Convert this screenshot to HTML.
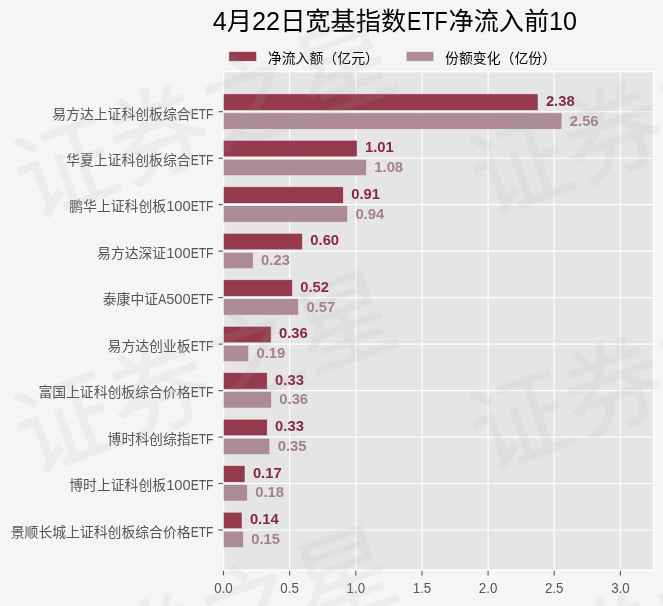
<!DOCTYPE html>
<html lang="zh-CN">
<head>
<meta charset="utf-8">
<title>4月22日宽基指数ETF净流入前10</title>
<style>
html,body{margin:0;padding:0;background:#f5f5f5;}
body{width:663px;height:606px;overflow:hidden;}
svg{display:block;}
text{font-family:"Liberation Sans", "Noto Sans CJK SC", sans-serif;}
.yl{font-size:13.84px;fill:#555;}
.xl{font-size:14.9px;fill:#555;text-anchor:middle;}
.v{font-size:15.4px;font-weight:bold;}
.lg{font-size:13.9px;fill:#000;}
.tt{font-size:25.4px;fill:#000;}
.wm{font-size:99px;fill:#a8a8a8;stroke:#a8a8a8;stroke-width:1.2px;opacity:0.105;}
</style>
</head>
<body>
<svg width="663" height="606" viewBox="0 0 663 606">
<rect x="0" y="0" width="663" height="606" fill="#f5f5f5"/>
<rect x="223.5" y="71.6" width="430.1" height="498.5" fill="#e5e5e5"/>
<g stroke="#fff" stroke-width="1.1">
<line x1="223.5" y1="71.6" x2="223.5" y2="570.1"/>
<line x1="289.6" y1="71.6" x2="289.6" y2="570.1"/>
<line x1="355.8" y1="71.6" x2="355.8" y2="570.1"/>
<line x1="422.0" y1="71.6" x2="422.0" y2="570.1"/>
<line x1="488.1" y1="71.6" x2="488.1" y2="570.1"/>
<line x1="554.2" y1="71.6" x2="554.2" y2="570.1"/>
<line x1="620.4" y1="71.6" x2="620.4" y2="570.1"/>
<line x1="223.5" y1="111.7" x2="653.6" y2="111.7"/>
<line x1="223.5" y1="158.2" x2="653.6" y2="158.2"/>
<line x1="223.5" y1="204.6" x2="653.6" y2="204.6"/>
<line x1="223.5" y1="251.1" x2="653.6" y2="251.1"/>
<line x1="223.5" y1="297.6" x2="653.6" y2="297.6"/>
<line x1="223.5" y1="344.1" x2="653.6" y2="344.1"/>
<line x1="223.5" y1="390.6" x2="653.6" y2="390.6"/>
<line x1="223.5" y1="437.1" x2="653.6" y2="437.1"/>
<line x1="223.5" y1="483.5" x2="653.6" y2="483.5"/>
<line x1="223.5" y1="530.0" x2="653.6" y2="530.0"/>
</g>
<rect x="223.5" y="71.6" width="430.1" height="498.5" fill="none" stroke="#fff" stroke-width="1.4"/>
<g stroke="#555" stroke-width="1.1">
<line x1="223.5" y1="570.8" x2="223.5" y2="575.4"/>
<line x1="289.6" y1="570.8" x2="289.6" y2="575.4"/>
<line x1="355.8" y1="570.8" x2="355.8" y2="575.4"/>
<line x1="422.0" y1="570.8" x2="422.0" y2="575.4"/>
<line x1="488.1" y1="570.8" x2="488.1" y2="575.4"/>
<line x1="554.2" y1="570.8" x2="554.2" y2="575.4"/>
<line x1="620.4" y1="570.8" x2="620.4" y2="575.4"/>
<line x1="218.5" y1="111.7" x2="222.9" y2="111.7"/>
<line x1="218.5" y1="158.2" x2="222.9" y2="158.2"/>
<line x1="218.5" y1="204.6" x2="222.9" y2="204.6"/>
<line x1="218.5" y1="251.1" x2="222.9" y2="251.1"/>
<line x1="218.5" y1="297.6" x2="222.9" y2="297.6"/>
<line x1="218.5" y1="344.1" x2="222.9" y2="344.1"/>
<line x1="218.5" y1="390.6" x2="222.9" y2="390.6"/>
<line x1="218.5" y1="437.1" x2="222.9" y2="437.1"/>
<line x1="218.5" y1="483.5" x2="222.9" y2="483.5"/>
<line x1="218.5" y1="530.0" x2="222.9" y2="530.0"/>
</g>
<rect x="223.5" y="93.9" width="314.5" height="16.5" fill="#8c273d" fill-opacity="0.9" stroke="#eee" stroke-width="0.5"/>
<rect x="223.5" y="112.9" width="338.4" height="16.3" fill="#a5808d" fill-opacity="0.9" stroke="#eee" stroke-width="0.5"/>
<text class="v" x="545.9" y="106.0" fill="#862840" textLength="28.8" lengthAdjust="spacingAndGlyphs">2.38</text>
<text class="v" x="569.8" y="126.0" fill="#a4808d" textLength="28.8" lengthAdjust="spacingAndGlyphs">2.56</text>
<text class="yl" y="118.5"><tspan x="52.3">易方达上证科创板综合</tspan><tspan x="190.7" textLength="22.7" lengthAdjust="spacingAndGlyphs">ETF</tspan></text>
<rect x="223.5" y="140.3" width="133.6" height="16.5" fill="#8c273d" fill-opacity="0.9" stroke="#eee" stroke-width="0.5"/>
<rect x="223.5" y="159.3" width="142.9" height="16.3" fill="#a5808d" fill-opacity="0.9" stroke="#eee" stroke-width="0.5"/>
<text class="v" x="365.0" y="152.0" fill="#862840" textLength="28.8" lengthAdjust="spacingAndGlyphs">1.01</text>
<text class="v" x="374.3" y="172.0" fill="#a4808d" textLength="28.8" lengthAdjust="spacingAndGlyphs">1.08</text>
<text class="yl" y="165.0"><tspan x="66.1">华夏上证科创板综合</tspan><tspan x="190.7" textLength="22.7" lengthAdjust="spacingAndGlyphs">ETF</tspan></text>
<rect x="223.5" y="186.8" width="119.8" height="16.5" fill="#8c273d" fill-opacity="0.9" stroke="#eee" stroke-width="0.5"/>
<rect x="223.5" y="205.8" width="124.0" height="16.3" fill="#a5808d" fill-opacity="0.9" stroke="#eee" stroke-width="0.5"/>
<text class="v" x="351.2" y="199.0" fill="#862840" textLength="28.8" lengthAdjust="spacingAndGlyphs">0.91</text>
<text class="v" x="355.4" y="219.0" fill="#a4808d" textLength="28.8" lengthAdjust="spacingAndGlyphs">0.94</text>
<text class="yl" y="211.4"><tspan x="69.3">鹏华上证科创板</tspan><tspan x="166.2" textLength="24.5" lengthAdjust="spacingAndGlyphs">100</tspan><tspan x="190.7" textLength="22.7" lengthAdjust="spacingAndGlyphs">ETF</tspan></text>
<rect x="223.5" y="233.3" width="78.9" height="16.5" fill="#8c273d" fill-opacity="0.9" stroke="#eee" stroke-width="0.5"/>
<rect x="223.5" y="252.3" width="29.7" height="16.3" fill="#a5808d" fill-opacity="0.9" stroke="#eee" stroke-width="0.5"/>
<text class="v" x="310.3" y="245.0" fill="#862840" textLength="28.8" lengthAdjust="spacingAndGlyphs">0.60</text>
<text class="v" x="261.1" y="265.0" fill="#a4808d" textLength="28.8" lengthAdjust="spacingAndGlyphs">0.23</text>
<text class="yl" y="257.9"><tspan x="97.0">易方达深证</tspan><tspan x="166.2" textLength="24.5" lengthAdjust="spacingAndGlyphs">100</tspan><tspan x="190.7" textLength="22.7" lengthAdjust="spacingAndGlyphs">ETF</tspan></text>
<rect x="223.5" y="279.8" width="68.8" height="16.5" fill="#8c273d" fill-opacity="0.9" stroke="#eee" stroke-width="0.5"/>
<rect x="223.5" y="298.8" width="75.0" height="16.3" fill="#a5808d" fill-opacity="0.9" stroke="#eee" stroke-width="0.5"/>
<text class="v" x="300.2" y="292.0" fill="#862840" textLength="28.8" lengthAdjust="spacingAndGlyphs">0.52</text>
<text class="v" x="306.4" y="312.0" fill="#a4808d" textLength="28.8" lengthAdjust="spacingAndGlyphs">0.57</text>
<text class="yl" y="304.4"><tspan x="102.8">泰康中证</tspan><tspan x="158.2" textLength="8.0" lengthAdjust="spacingAndGlyphs">A</tspan><tspan x="166.2" textLength="24.5" lengthAdjust="spacingAndGlyphs">500</tspan><tspan x="190.7" textLength="22.7" lengthAdjust="spacingAndGlyphs">ETF</tspan></text>
<rect x="223.5" y="326.3" width="47.6" height="16.5" fill="#8c273d" fill-opacity="0.9" stroke="#eee" stroke-width="0.5"/>
<rect x="223.5" y="345.3" width="25.1" height="16.3" fill="#a5808d" fill-opacity="0.9" stroke="#eee" stroke-width="0.5"/>
<text class="v" x="279.0" y="338.0" fill="#862840" textLength="28.8" lengthAdjust="spacingAndGlyphs">0.36</text>
<text class="v" x="256.5" y="358.0" fill="#a4808d" textLength="28.8" lengthAdjust="spacingAndGlyphs">0.19</text>
<text class="yl" y="350.9"><tspan x="107.6">易方达创业板</tspan><tspan x="190.7" textLength="22.7" lengthAdjust="spacingAndGlyphs">ETF</tspan></text>
<rect x="223.5" y="372.7" width="43.7" height="16.5" fill="#8c273d" fill-opacity="0.9" stroke="#eee" stroke-width="0.5"/>
<rect x="223.5" y="391.7" width="47.9" height="16.3" fill="#a5808d" fill-opacity="0.9" stroke="#eee" stroke-width="0.5"/>
<text class="v" x="275.1" y="385.0" fill="#862840" textLength="28.8" lengthAdjust="spacingAndGlyphs">0.33</text>
<text class="v" x="279.3" y="404.0" fill="#a4808d" textLength="28.8" lengthAdjust="spacingAndGlyphs">0.36</text>
<text class="yl" y="397.4"><tspan x="38.4">富国上证科创板综合价格</tspan><tspan x="190.7" textLength="22.7" lengthAdjust="spacingAndGlyphs">ETF</tspan></text>
<rect x="223.5" y="419.2" width="43.7" height="16.5" fill="#8c273d" fill-opacity="0.9" stroke="#eee" stroke-width="0.5"/>
<rect x="223.5" y="438.2" width="46.3" height="16.3" fill="#a5808d" fill-opacity="0.9" stroke="#eee" stroke-width="0.5"/>
<text class="v" x="275.1" y="431.0" fill="#862840" textLength="28.8" lengthAdjust="spacingAndGlyphs">0.33</text>
<text class="v" x="277.7" y="451.0" fill="#a4808d" textLength="28.8" lengthAdjust="spacingAndGlyphs">0.35</text>
<text class="yl" y="443.9"><tspan x="107.6">博时科创综指</tspan><tspan x="190.7" textLength="22.7" lengthAdjust="spacingAndGlyphs">ETF</tspan></text>
<rect x="223.5" y="465.7" width="21.5" height="16.5" fill="#8c273d" fill-opacity="0.9" stroke="#eee" stroke-width="0.5"/>
<rect x="223.5" y="484.7" width="23.8" height="16.3" fill="#a5808d" fill-opacity="0.9" stroke="#eee" stroke-width="0.5"/>
<text class="v" x="252.9" y="478.0" fill="#862840" textLength="28.8" lengthAdjust="spacingAndGlyphs">0.17</text>
<text class="v" x="255.2" y="497.0" fill="#a4808d" textLength="28.8" lengthAdjust="spacingAndGlyphs">0.18</text>
<text class="yl" y="490.3"><tspan x="69.3">博时上证科创板</tspan><tspan x="166.2" textLength="24.5" lengthAdjust="spacingAndGlyphs">100</tspan><tspan x="190.7" textLength="22.7" lengthAdjust="spacingAndGlyphs">ETF</tspan></text>
<rect x="223.5" y="512.2" width="18.5" height="16.5" fill="#8c273d" fill-opacity="0.9" stroke="#eee" stroke-width="0.5"/>
<rect x="223.5" y="531.2" width="19.8" height="16.3" fill="#a5808d" fill-opacity="0.9" stroke="#eee" stroke-width="0.5"/>
<text class="v" x="249.9" y="524.0" fill="#862840" textLength="28.8" lengthAdjust="spacingAndGlyphs">0.14</text>
<text class="v" x="251.2" y="544.0" fill="#a4808d" textLength="28.8" lengthAdjust="spacingAndGlyphs">0.15</text>
<text class="yl" y="536.8"><tspan x="10.8">景顺长城上证科创板综合价格</tspan><tspan x="190.7" textLength="22.7" lengthAdjust="spacingAndGlyphs">ETF</tspan></text>
<text class="xl" x="223.5" y="592.9" textLength="18.5" lengthAdjust="spacingAndGlyphs">0.0</text>
<text class="xl" x="289.6" y="592.9" textLength="18.5" lengthAdjust="spacingAndGlyphs">0.5</text>
<text class="xl" x="355.8" y="592.9" textLength="18.5" lengthAdjust="spacingAndGlyphs">1.0</text>
<text class="xl" x="422.0" y="592.9" textLength="18.5" lengthAdjust="spacingAndGlyphs">1.5</text>
<text class="xl" x="488.1" y="592.9" textLength="18.5" lengthAdjust="spacingAndGlyphs">2.0</text>
<text class="xl" x="554.2" y="592.9" textLength="18.5" lengthAdjust="spacingAndGlyphs">2.5</text>
<text class="xl" x="620.4" y="592.9" textLength="18.5" lengthAdjust="spacingAndGlyphs">3.0</text>
<rect x="228.9" y="51.7" width="27.6" height="9.5" fill="#8c273d" fill-opacity="0.9" stroke="#eee" stroke-width="0.5"/>
<text class="lg" x="267.8" y="62.5">净流入额（亿元）</text>
<rect x="406.2" y="51.7" width="27.6" height="9.5" fill="#a5808d" fill-opacity="0.9" stroke="#eee" stroke-width="0.5"/>
<text class="lg" x="445.0" y="62.5">份额变化（亿份）</text>
<text class="tt" y="29.7"><tspan x="212.8" textLength="193.5" lengthAdjust="spacingAndGlyphs">4月22日宽基指数</tspan><tspan x="407" textLength="40.8" lengthAdjust="spacingAndGlyphs">ETF</tspan><tspan x="448.5" textLength="128.5" lengthAdjust="spacingAndGlyphs">净流入前10</tspan></text>
<text class="wm" transform="translate(65,166) rotate(-20)" x="-50" y="38">证券之星</text>
<text class="wm" transform="translate(520,164) rotate(-20)" x="-50" y="38">证券之星</text>
<text class="wm" transform="translate(65,421) rotate(-20)" x="-50" y="38">证券之星</text>
<text class="wm" transform="translate(520,419) rotate(-20)" x="-50" y="38">证券之星</text>
<text class="wm" transform="translate(65,676) rotate(-20)" x="-50" y="38">证券之星</text>
<text class="wm" transform="translate(520,674) rotate(-20)" x="-50" y="38">证券之星</text>
<text class="wm" transform="translate(65,-89) rotate(-20)" x="-50" y="38">证券之星</text>
</svg>
</body>
</html>
